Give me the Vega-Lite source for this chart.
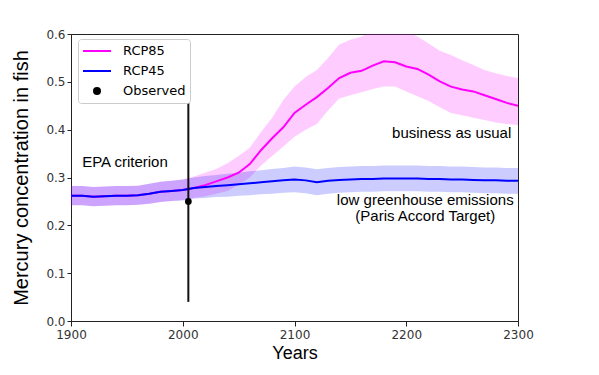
{
  "$schema": "https://vega.github.io/schema/vega-lite/v6.json",
  "width": 447,
  "height": 287,
  "autosize": {"type": "none"},
  "padding": {"left": 71, "top": 34, "right": 81, "bottom": 54},
  "background": "white",
  "config": {
    "view": {"stroke": "#222", "strokeWidth": 1},
    "axis": {
      "labelFont": "DejaVu Sans", "labelFontSize": 12, "labelColor": "#333", "labelFlush": false,
      "tickColor": "#222", "domainColor": "#222", "tickSize": 5, "labelPadding": 3,
      "grid": false, "titleFont": "Liberation Sans", "titleFontWeight": "normal", "titleColor": "black"
    },
    "text": {"font": "Liberation Sans", "fontSize": 15, "color": "black"}
  },
  "datasets": {
    "runs": [
      {"year": 1900, "scenario": "RCP45", "mean": 0.262, "lo": 0.242, "hi": 0.282},
      {"year": 1910, "scenario": "RCP45", "mean": 0.262, "lo": 0.242, "hi": 0.282},
      {"year": 1920, "scenario": "RCP45", "mean": 0.260, "lo": 0.240, "hi": 0.280},
      {"year": 1930, "scenario": "RCP45", "mean": 0.261, "lo": 0.241, "hi": 0.281},
      {"year": 1940, "scenario": "RCP45", "mean": 0.262, "lo": 0.242, "hi": 0.282},
      {"year": 1950, "scenario": "RCP45", "mean": 0.262, "lo": 0.242, "hi": 0.282},
      {"year": 1960, "scenario": "RCP45", "mean": 0.263, "lo": 0.243, "hi": 0.283},
      {"year": 1970, "scenario": "RCP45", "mean": 0.266, "lo": 0.245, "hi": 0.287},
      {"year": 1980, "scenario": "RCP45", "mean": 0.270, "lo": 0.249, "hi": 0.291},
      {"year": 1990, "scenario": "RCP45", "mean": 0.272, "lo": 0.251, "hi": 0.293},
      {"year": 2000, "scenario": "RCP45", "mean": 0.274, "lo": 0.252, "hi": 0.296},
      {"year": 2010, "scenario": "RCP45", "mean": 0.278, "lo": 0.256, "hi": 0.300},
      {"year": 2020, "scenario": "RCP45", "mean": 0.280, "lo": 0.257, "hi": 0.303},
      {"year": 2030, "scenario": "RCP45", "mean": 0.282, "lo": 0.259, "hi": 0.305},
      {"year": 2040, "scenario": "RCP45", "mean": 0.284, "lo": 0.260, "hi": 0.308},
      {"year": 2050, "scenario": "RCP45", "mean": 0.286, "lo": 0.262, "hi": 0.310},
      {"year": 2060, "scenario": "RCP45", "mean": 0.288, "lo": 0.263, "hi": 0.313},
      {"year": 2070, "scenario": "RCP45", "mean": 0.290, "lo": 0.265, "hi": 0.315},
      {"year": 2080, "scenario": "RCP45", "mean": 0.292, "lo": 0.266, "hi": 0.318},
      {"year": 2090, "scenario": "RCP45", "mean": 0.294, "lo": 0.268, "hi": 0.320},
      {"year": 2100, "scenario": "RCP45", "mean": 0.296, "lo": 0.269, "hi": 0.323},
      {"year": 2110, "scenario": "RCP45", "mean": 0.294, "lo": 0.267, "hi": 0.321},
      {"year": 2120, "scenario": "RCP45", "mean": 0.290, "lo": 0.263, "hi": 0.317},
      {"year": 2130, "scenario": "RCP45", "mean": 0.293, "lo": 0.266, "hi": 0.320},
      {"year": 2140, "scenario": "RCP45", "mean": 0.295, "lo": 0.268, "hi": 0.322},
      {"year": 2150, "scenario": "RCP45", "mean": 0.296, "lo": 0.269, "hi": 0.323},
      {"year": 2160, "scenario": "RCP45", "mean": 0.297, "lo": 0.270, "hi": 0.324},
      {"year": 2170, "scenario": "RCP45", "mean": 0.297, "lo": 0.270, "hi": 0.324},
      {"year": 2180, "scenario": "RCP45", "mean": 0.298, "lo": 0.271, "hi": 0.325},
      {"year": 2190, "scenario": "RCP45", "mean": 0.298, "lo": 0.271, "hi": 0.325},
      {"year": 2200, "scenario": "RCP45", "mean": 0.298, "lo": 0.271, "hi": 0.325},
      {"year": 2210, "scenario": "RCP45", "mean": 0.298, "lo": 0.271, "hi": 0.325},
      {"year": 2220, "scenario": "RCP45", "mean": 0.297, "lo": 0.270, "hi": 0.324},
      {"year": 2230, "scenario": "RCP45", "mean": 0.297, "lo": 0.270, "hi": 0.324},
      {"year": 2240, "scenario": "RCP45", "mean": 0.296, "lo": 0.269, "hi": 0.323},
      {"year": 2250, "scenario": "RCP45", "mean": 0.296, "lo": 0.269, "hi": 0.323},
      {"year": 2260, "scenario": "RCP45", "mean": 0.295, "lo": 0.268, "hi": 0.322},
      {"year": 2270, "scenario": "RCP45", "mean": 0.294, "lo": 0.267, "hi": 0.321},
      {"year": 2280, "scenario": "RCP45", "mean": 0.294, "lo": 0.267, "hi": 0.321},
      {"year": 2290, "scenario": "RCP45", "mean": 0.293, "lo": 0.266, "hi": 0.320},
      {"year": 2300, "scenario": "RCP45", "mean": 0.293, "lo": 0.266, "hi": 0.320},
      {"year": 1900, "scenario": "RCP85", "mean": 0.262, "lo": 0.242, "hi": 0.282},
      {"year": 1910, "scenario": "RCP85", "mean": 0.262, "lo": 0.242, "hi": 0.282},
      {"year": 1920, "scenario": "RCP85", "mean": 0.260, "lo": 0.240, "hi": 0.280},
      {"year": 1930, "scenario": "RCP85", "mean": 0.261, "lo": 0.241, "hi": 0.281},
      {"year": 1940, "scenario": "RCP85", "mean": 0.262, "lo": 0.242, "hi": 0.282},
      {"year": 1950, "scenario": "RCP85", "mean": 0.262, "lo": 0.242, "hi": 0.282},
      {"year": 1960, "scenario": "RCP85", "mean": 0.263, "lo": 0.243, "hi": 0.283},
      {"year": 1970, "scenario": "RCP85", "mean": 0.266, "lo": 0.245, "hi": 0.287},
      {"year": 1980, "scenario": "RCP85", "mean": 0.270, "lo": 0.249, "hi": 0.291},
      {"year": 1990, "scenario": "RCP85", "mean": 0.272, "lo": 0.251, "hi": 0.293},
      {"year": 2000, "scenario": "RCP85", "mean": 0.274, "lo": 0.253, "hi": 0.296},
      {"year": 2010, "scenario": "RCP85", "mean": 0.278, "lo": 0.257, "hi": 0.302},
      {"year": 2020, "scenario": "RCP85", "mean": 0.284, "lo": 0.261, "hi": 0.310},
      {"year": 2030, "scenario": "RCP85", "mean": 0.292, "lo": 0.266, "hi": 0.318},
      {"year": 2040, "scenario": "RCP85", "mean": 0.300, "lo": 0.272, "hi": 0.330},
      {"year": 2050, "scenario": "RCP85", "mean": 0.310, "lo": 0.285, "hi": 0.345},
      {"year": 2060, "scenario": "RCP85", "mean": 0.328, "lo": 0.300, "hi": 0.362},
      {"year": 2070, "scenario": "RCP85", "mean": 0.357, "lo": 0.325, "hi": 0.395},
      {"year": 2080, "scenario": "RCP85", "mean": 0.382, "lo": 0.345, "hi": 0.425},
      {"year": 2090, "scenario": "RCP85", "mean": 0.405, "lo": 0.365, "hi": 0.462},
      {"year": 2100, "scenario": "RCP85", "mean": 0.435, "lo": 0.385, "hi": 0.490},
      {"year": 2110, "scenario": "RCP85", "mean": 0.452, "lo": 0.400, "hi": 0.510},
      {"year": 2120, "scenario": "RCP85", "mean": 0.468, "lo": 0.412, "hi": 0.525},
      {"year": 2130, "scenario": "RCP85", "mean": 0.487, "lo": 0.440, "hi": 0.550},
      {"year": 2140, "scenario": "RCP85", "mean": 0.508, "lo": 0.465, "hi": 0.578},
      {"year": 2150, "scenario": "RCP85", "mean": 0.519, "lo": 0.472, "hi": 0.588},
      {"year": 2160, "scenario": "RCP85", "mean": 0.523, "lo": 0.478, "hi": 0.595},
      {"year": 2170, "scenario": "RCP85", "mean": 0.534, "lo": 0.485, "hi": 0.605},
      {"year": 2180, "scenario": "RCP85", "mean": 0.543, "lo": 0.490, "hi": 0.612},
      {"year": 2190, "scenario": "RCP85", "mean": 0.541, "lo": 0.490, "hi": 0.612},
      {"year": 2200, "scenario": "RCP85", "mean": 0.532, "lo": 0.480, "hi": 0.605},
      {"year": 2210, "scenario": "RCP85", "mean": 0.527, "lo": 0.470, "hi": 0.595},
      {"year": 2220, "scenario": "RCP85", "mean": 0.515, "lo": 0.460, "hi": 0.580},
      {"year": 2230, "scenario": "RCP85", "mean": 0.501, "lo": 0.447, "hi": 0.565},
      {"year": 2240, "scenario": "RCP85", "mean": 0.490, "lo": 0.435, "hi": 0.556},
      {"year": 2250, "scenario": "RCP85", "mean": 0.484, "lo": 0.430, "hi": 0.545},
      {"year": 2260, "scenario": "RCP85", "mean": 0.480, "lo": 0.425, "hi": 0.535},
      {"year": 2270, "scenario": "RCP85", "mean": 0.472, "lo": 0.420, "hi": 0.525},
      {"year": 2280, "scenario": "RCP85", "mean": 0.464, "lo": 0.415, "hi": 0.518},
      {"year": 2290, "scenario": "RCP85", "mean": 0.456, "lo": 0.412, "hi": 0.512},
      {"year": 2300, "scenario": "RCP85", "mean": 0.450, "lo": 0.410, "hi": 0.508}
    ],
    "observed": [
      {"year": 2005, "scenario": "Observed", "mean": 0.25, "lo": 0.04, "hi": 0.46}
    ],
    "notes": [
      {"year": 1910, "value": 0.332, "label": "EPA criterion"},
      {"year": 2294, "value": 0.393, "label": "business as usual"},
      {"year": 2217, "value": 0.253, "label": "low greenhouse emissions"},
      {"year": 2217, "value": 0.219, "label": "(Paris Accord Target)"}
    ]
  },
  "encoding": {
    "x": {"field": "year", "type": "quantitative", "scale": {"domain": [1900, 2300], "nice": false, "zero": false},
          "axis": {"values": [1900, 2000, 2100, 2200, 2300], "format": "d", "title": "Years", "titleFontSize": 18, "titlePadding": 4}},
    "y": {"type": "quantitative", "scale": {"domain": [0, 0.6], "nice": false, "zero": false}}
  },
  "layer": [
    {
      "data": {"name": "runs"},
      "transform": [{"filter": "datum.scenario == 'RCP85'"}],
      "mark": {"type": "area", "color": "#ff00ff", "opacity": 0.2, "clip": true},
      "encoding": {
        "y": {"field": "lo", "type": "quantitative",
              "axis": {"values": [0, 0.1, 0.2, 0.3, 0.4, 0.5, 0.6], "format": ".1f", "title": "Mercury concentration in fish", "titleFontSize": 20, "titlePadding": 14, "tickSize": 4, "labelPadding": 2}},
        "y2": {"field": "hi"}
      }
    },
    {
      "data": {"name": "runs"},
      "transform": [{"filter": "datum.scenario == 'RCP45'"}],
      "mark": {"type": "area", "color": "#0000ff", "opacity": 0.2, "clip": true},
      "encoding": {"y": {"field": "lo", "type": "quantitative"}, "y2": {"field": "hi"}}
    },
    {
      "data": {"name": "runs"},
      "transform": [{"filter": "datum.scenario == 'RCP85'"}],
      "mark": {"type": "line", "strokeWidth": 2, "clip": true},
      "encoding": {
        "y": {"field": "mean", "type": "quantitative"},
        "color": {"field": "scenario", "type": "nominal",
          "scale": {"domain": ["RCP85", "RCP45", "Observed"], "range": ["#ff00ff", "#0000ff", "#000000"]},
          "legend": {
            "title": null, "orient": "none", "legendX": 7, "legendY": 5,
            "fillColor": "white", "strokeColor": "#cccccc", "cornerRadius": 3, "padding": 4,
            "labelFont": "DejaVu Sans", "labelFontSize": 13, "labelColor": "black",
            "symbolType": "circle", "symbolSize": 100, "symbolStrokeWidth": 2, "labelOffset": 11,
            "clipHeight": 16, "rowPadding": 4,
            "encode": {
              "symbols": {"update": {
                "x": {"value": 15},
                "shape": {"signal": "datum.value == 'Observed' ? 'circle' : 'stroke'"},
                "size": {"signal": "datum.value == 'Observed' ? 36 : 784"},
                "fill": {"signal": "datum.value == 'Observed' ? 'black' : 'transparent'"},
                "stroke": {"signal": "datum.value == 'RCP85' ? '#ff00ff' : datum.value == 'RCP45' ? '#0000ff' : 'transparent'"},
                "strokeWidth": {"value": 2},
                "opacity": {"value": 1}
              }}
            }
          }
        }
      }
    },
    {
      "data": {"name": "runs"},
      "transform": [{"filter": "datum.scenario == 'RCP45'"}],
      "mark": {"type": "line", "strokeWidth": 2, "clip": true},
      "encoding": {
        "y": {"field": "mean", "type": "quantitative"},
        "color": {"field": "scenario", "type": "nominal"}
      }
    },
    {
      "mark": {"type": "rule", "color": "#333333", "strokeWidth": 1.6, "strokeDash": [2, 3]},
      "encoding": {"y": {"datum": 0.3}, "x": null}
    },
    {
      "data": {"name": "observed"},
      "mark": {"type": "rule", "color": "#111111", "strokeWidth": 2},
      "encoding": {"y": {"field": "lo", "type": "quantitative"}, "y2": {"field": "hi"}}
    },
    {
      "data": {"name": "observed"},
      "mark": {"type": "point", "filled": true, "size": 45, "opacity": 1},
      "encoding": {
        "y": {"field": "mean", "type": "quantitative"},
        "color": {"field": "scenario", "type": "nominal"}
      }
    },
    {
      "data": {"name": "notes"},
      "transform": [{"filter": "datum.label == 'EPA criterion'"}],
      "mark": {"type": "text", "align": "left", "baseline": "middle"},
      "encoding": {"y": {"field": "value", "type": "quantitative"}, "text": {"field": "label"}}
    },
    {
      "data": {"name": "notes"},
      "transform": [{"filter": "datum.label == 'business as usual'"}],
      "mark": {"type": "text", "align": "right", "baseline": "middle"},
      "encoding": {"y": {"field": "value", "type": "quantitative"}, "text": {"field": "label"}}
    },
    {
      "data": {"name": "notes"},
      "transform": [{"filter": "datum.label == 'low greenhouse emissions' || datum.label == '(Paris Accord Target)'"}],
      "mark": {"type": "text", "align": "center", "baseline": "middle"},
      "encoding": {"y": {"field": "value", "type": "quantitative"}, "text": {"field": "label"}}
    }
  ]
}
